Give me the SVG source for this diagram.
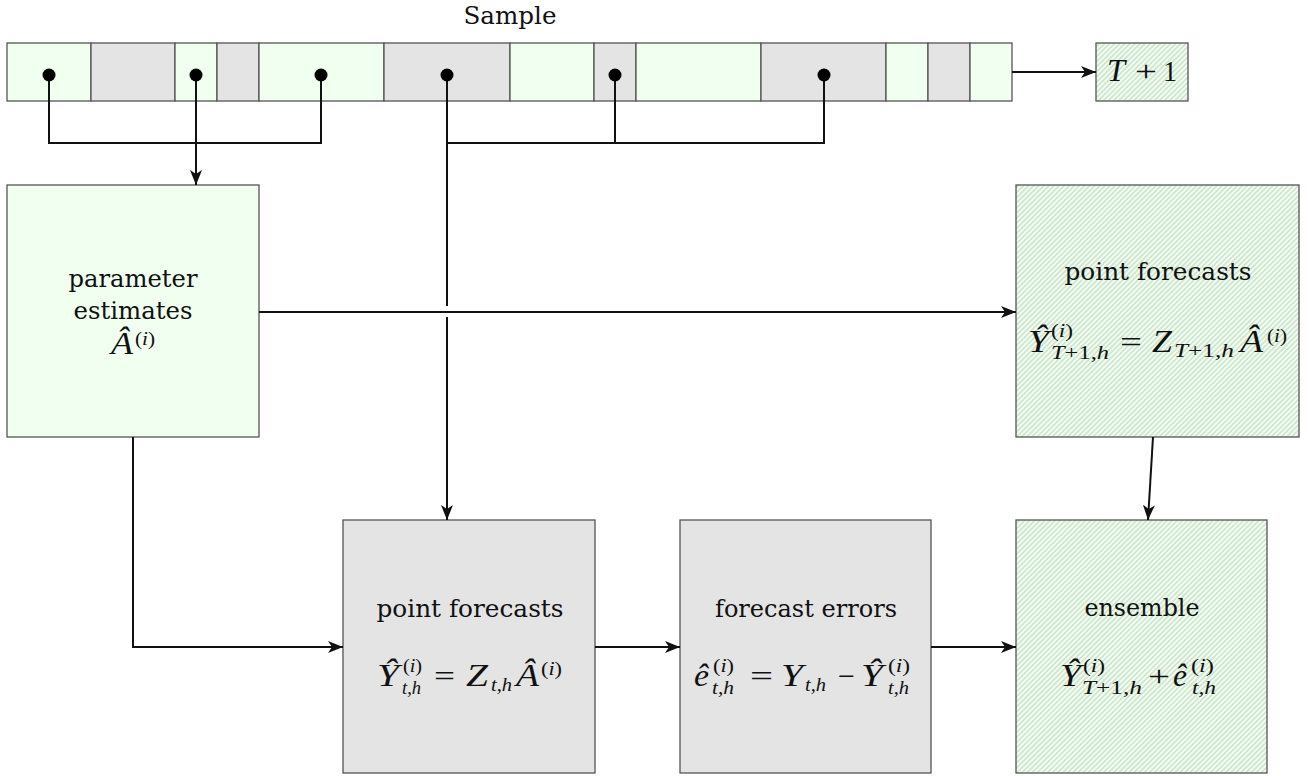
<svg xmlns="http://www.w3.org/2000/svg" width="1309" height="776" viewBox="0 0 1309 776">
<style>
.g{fill:#f0fff0;stroke:#555;stroke-width:1.3}
.k{fill:#e4e4e4;stroke:#555;stroke-width:1.3}
.h{fill:url(#hatch);stroke:#555;stroke-width:1.3}
.c{fill:none;stroke:#111;stroke-width:2}
.a{marker-end:url(#arr)}
.lbl{font-family:"DejaVu Serif",serif;font-size:24.5px;fill:#111;text-anchor:middle}
.mi{font-family:"Liberation Serif",serif;font-style:italic;font-size:31px;fill:#111}
.mr{font-family:"Liberation Serif",serif;font-style:normal;font-size:30px;fill:#111}
.s{font-family:"Liberation Serif",serif;font-style:normal;font-size:19px;fill:#111}
.it{font-style:italic}
</style>
<defs>
<pattern id="hatch" patternUnits="userSpaceOnUse" width="3.6" height="3.6" patternTransform="rotate(45)">
<rect width="3.6" height="3.6" fill="#f0fff0"/>
<line x1="1.8" y1="0" x2="1.8" y2="3.6" stroke="#b6cab6" stroke-width="0.9"/>
</pattern>
<marker id="arr" markerUnits="userSpaceOnUse" markerWidth="16" markerHeight="12" refX="15" refY="6" orient="auto">
<path d="M0,0 L15,6 L0,12 L4,6 z" fill="#111"/>
</marker>
</defs>
<rect width="1309" height="776" fill="#fff"/>

<g id="sample-label"><text class="lbl" x="510" y="24" textLength="93" lengthAdjust="spacingAndGlyphs">Sample</text></g>

<g id="sample">
<rect class="g" x="7" y="43" width="84" height="58"/>
<rect class="k" x="91" y="43" width="84" height="58"/>
<rect class="g" x="175" y="43" width="42" height="58"/>
<rect class="k" x="217" y="43" width="42" height="58"/>
<rect class="g" x="259" y="43" width="125" height="58"/>
<rect class="k" x="384" y="43" width="126" height="58"/>
<rect class="g" x="510" y="43" width="84" height="58"/>
<rect class="k" x="594" y="43" width="42" height="58"/>
<rect class="g" x="636" y="43" width="125" height="58"/>
<rect class="k" x="761" y="43" width="125" height="58"/>
<rect class="g" x="886" y="43" width="42" height="58"/>
<rect class="k" x="928" y="43" width="42" height="58"/>
<rect class="g" x="970" y="43" width="42" height="58"/>
</g>

<g id="t-plus-1">
<rect class="h" x="1096" y="43" width="92" height="58"/>
<text class="mi" x="1107" y="81" textLength="18" lengthAdjust="spacingAndGlyphs">T</text>
<text class="mr" x="1135" y="81" textLength="22" lengthAdjust="spacingAndGlyphs">+</text>
<text class="mr" x="1163" y="81" textLength="14" lengthAdjust="spacingAndGlyphs">1</text>
</g>

<g id="param">
<rect class="g" x="7" y="185" width="252" height="252"/>
<text class="lbl" x="133" y="287" textLength="129" lengthAdjust="spacingAndGlyphs">parameter</text>
<text class="lbl" x="133" y="319" textLength="119" lengthAdjust="spacingAndGlyphs">estimates</text>
<text class="mi" x="111" y="354" textLength="22" lengthAdjust="spacingAndGlyphs">Â</text>
<text class="s" x="135" y="345" textLength="20" lengthAdjust="spacingAndGlyphs">(<tspan class="it">i</tspan>)</text>
</g>

<g id="pf-top">
<rect class="h" x="1016" y="185" width="283" height="252"/>
<text class="lbl" x="1158" y="280" textLength="187" lengthAdjust="spacingAndGlyphs">point forecasts</text>
<text class="mi" x="1028" y="352" textLength="21" lengthAdjust="spacingAndGlyphs">Ŷ</text>
<text class="s" x="1051" y="337" textLength="22" lengthAdjust="spacingAndGlyphs">(<tspan class="it">i</tspan>)</text>
<text class="s" x="1051" y="359" textLength="58" lengthAdjust="spacingAndGlyphs"><tspan class="it">T</tspan>+1,<tspan class="it">h</tspan></text>
<text class="mr" x="1120" y="352" textLength="22" lengthAdjust="spacingAndGlyphs">=</text>
<text class="mi" x="1152" y="352" textLength="20" lengthAdjust="spacingAndGlyphs">Z</text>
<text class="s" x="1174" y="357" textLength="60" lengthAdjust="spacingAndGlyphs"><tspan class="it">T</tspan>+1,<tspan class="it">h</tspan></text>
<text class="mi" x="1240" y="352" textLength="23" lengthAdjust="spacingAndGlyphs">Â</text>
<text class="s" x="1267" y="342" textLength="20" lengthAdjust="spacingAndGlyphs">(<tspan class="it">i</tspan>)</text>
</g>

<g id="pf-bottom">
<rect class="k" x="343" y="520" width="252" height="253"/>
<text class="lbl" x="470" y="617" textLength="187" lengthAdjust="spacingAndGlyphs">point forecasts</text>
<text class="mi" x="377" y="686" textLength="22" lengthAdjust="spacingAndGlyphs">Ŷ</text>
<text class="s" x="403" y="672" textLength="19" lengthAdjust="spacingAndGlyphs">(<tspan class="it">i</tspan>)</text>
<text class="s it" x="402" y="694" textLength="19" lengthAdjust="spacingAndGlyphs">t,h</text>
<text class="mr" x="434" y="686" textLength="21" lengthAdjust="spacingAndGlyphs">=</text>
<text class="mi" x="466" y="686" textLength="22" lengthAdjust="spacingAndGlyphs">Z</text>
<text class="s it" x="491" y="691" textLength="21" lengthAdjust="spacingAndGlyphs">t,h</text>
<text class="mi" x="516" y="686" textLength="23" lengthAdjust="spacingAndGlyphs">Â</text>
<text class="s" x="541" y="675" textLength="21" lengthAdjust="spacingAndGlyphs">(<tspan class="it">i</tspan>)</text>
</g>

<g id="errors">
<rect class="k" x="680" y="520" width="251" height="253"/>
<text class="lbl" x="806" y="617" textLength="182" lengthAdjust="spacingAndGlyphs">forecast errors</text>
<text class="mi" x="694" y="686" textLength="15" lengthAdjust="spacingAndGlyphs">ê</text>
<text class="s" x="713" y="672" textLength="21" lengthAdjust="spacingAndGlyphs">(<tspan class="it">i</tspan>)</text>
<text class="s it" x="712" y="694" textLength="22" lengthAdjust="spacingAndGlyphs">t,h</text>
<text class="mr" x="750" y="686" textLength="23" lengthAdjust="spacingAndGlyphs">=</text>
<text class="mi" x="781" y="686" textLength="22" lengthAdjust="spacingAndGlyphs">Y</text>
<text class="s it" x="805" y="691" textLength="21" lengthAdjust="spacingAndGlyphs">t,h</text>
<text class="mr" x="838" y="686" textLength="17" lengthAdjust="spacingAndGlyphs">−</text>
<text class="mi" x="861" y="686" textLength="22" lengthAdjust="spacingAndGlyphs">Ŷ</text>
<text class="s" x="888" y="672" textLength="22" lengthAdjust="spacingAndGlyphs">(<tspan class="it">i</tspan>)</text>
<text class="s it" x="888" y="694" textLength="21" lengthAdjust="spacingAndGlyphs">t,h</text>
</g>

<g id="ensemble">
<rect class="h" x="1016" y="520" width="251" height="253"/>
<text class="lbl" x="1142" y="616" textLength="115" lengthAdjust="spacingAndGlyphs">ensemble</text>
<text class="mi" x="1060" y="686" textLength="21" lengthAdjust="spacingAndGlyphs">Ŷ</text>
<text class="s" x="1083" y="672" textLength="22" lengthAdjust="spacingAndGlyphs">(<tspan class="it">i</tspan>)</text>
<text class="s" x="1082" y="694" textLength="60" lengthAdjust="spacingAndGlyphs"><tspan class="it">T</tspan>+1,<tspan class="it">h</tspan></text>
<text class="mr" x="1148" y="686" textLength="22" lengthAdjust="spacingAndGlyphs">+</text>
<text class="mi" x="1173" y="686" textLength="14" lengthAdjust="spacingAndGlyphs">ê</text>
<text class="s" x="1191" y="672" textLength="23" lengthAdjust="spacingAndGlyphs">(<tspan class="it">i</tspan>)</text>
<text class="s it" x="1192" y="694" textLength="24" lengthAdjust="spacingAndGlyphs">t,h</text>
</g>

<g id="connectors">
<path class="c" d="M49,75 V143 H321 V75"/>
<path class="c a" d="M196,75 V185"/>
<path class="c" d="M447,75 V306"/>
<path class="c a" d="M447,317 V520"/>
<path class="c" d="M447,143 H824 V75"/>
<path class="c" d="M615,75 V143"/>
<path class="c a" d="M1012,72 H1096"/>
<path class="c a" d="M259,312 H1016"/>
<path class="c a" d="M133,437 V647 H343"/>
<path class="c a" d="M595,647 H680"/>
<path class="c a" d="M931,647 H1016"/>
<path class="c a" d="M1153,437 L1148,520"/>
<g fill="#000">
<circle cx="49" cy="75" r="6.5"/>
<circle cx="196" cy="75" r="6.5"/>
<circle cx="321" cy="75" r="6.5"/>
<circle cx="447" cy="75" r="6.5"/>
<circle cx="615" cy="75" r="6.5"/>
<circle cx="824" cy="75" r="6.5"/>
</g>
</g>
</svg>
